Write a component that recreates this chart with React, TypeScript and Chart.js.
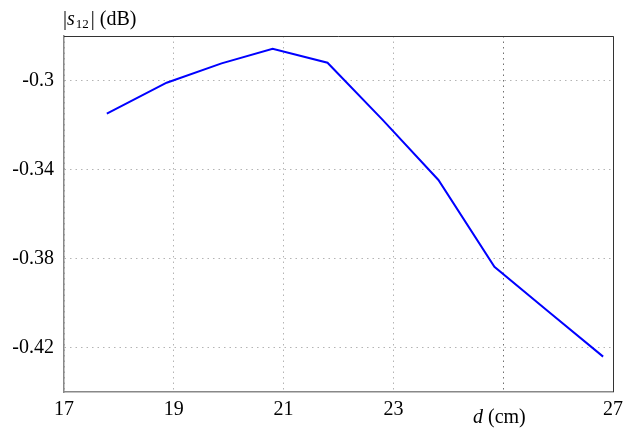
import React, { useEffect, useRef } from "react";
import { Chart, registerables } from "chart.js";

Chart.register(...registerables);

const FONT = "'Liberation Serif', 'Times New Roman', Times, serif";

// d (cm)
const dValues = [17.78, 18.87, 19.87, 20.8, 21.8, 22.8, 23.82, 24.84, 25.8, 26.82];
// |s12| (dB)
const s12Values = [-0.3149, -0.301, -0.2923, -0.2857, -0.292, -0.3176, -0.3447, -0.3837, -0.4034, -0.4241];

const xTickValues = [17, 19, 21, 23, 25, 27];
const xTickLabels = ["17", "19", "21", "23", "", "27"];
const yTickValues = [-0.42, -0.38, -0.34, -0.3];
const yTickLabels = ["-0.42", "-0.38", "-0.34", "-0.3"];

const frameAndTitles = {
  id: "frameAndTitles",
  afterDraw(chart: any) {
    const { ctx, chartArea } = chart;
    const { left, top, right, bottom } = chartArea;
    ctx.save();
    // top and right frame
    ctx.strokeStyle = "#333333";
    ctx.lineWidth = 1;
    ctx.setLineDash([]);
    ctx.beginPath();
    ctx.moveTo(left, Math.round(top) + 0.5);
    ctx.lineTo(Math.round(right) + 0.5, Math.round(top) + 0.5);
    ctx.lineTo(Math.round(right) + 0.5, bottom);
    ctx.stroke();

    ctx.fillStyle = "#000000";
    ctx.textBaseline = "alphabetic";
    ctx.textAlign = "left";

    // y-axis title: |s12| (dB)
    const normal = `20px ${FONT}`;
    const italic = `italic 20px ${FONT}`;
    const sub = `13px ${FONT}`;
    let x = left - 1;
    const yb = 25;
    ctx.font = normal;
    ctx.fillText("|", x, yb);
    x += ctx.measureText("|").width;
    ctx.font = italic;
    ctx.fillText("s", x, yb);
    x += ctx.measureText("s").width + 1;
    ctx.font = sub;
    ctx.fillText("12", x, yb + 3);
    x += ctx.measureText("12").width + 2;
    ctx.font = normal;
    ctx.fillText("| (dB)", x, yb);

    // x-axis title: d (cm)
    let x2 = 473;
    const yb2 = 423;
    ctx.font = italic;
    ctx.fillText("d", x2, yb2);
    x2 += ctx.measureText("d").width;
    ctx.font = normal;
    ctx.fillText(" (cm)", x2, yb2);
    ctx.restore();
  },
};

export default function App() {
  const canvasRef = useRef<HTMLCanvasElement | null>(null);

  useEffect(() => {
    if (!canvasRef.current) return;
    const chart = new Chart(canvasRef.current, {
      type: "line",
      data: {
        datasets: [
          {
            data: dValues.map((d, i) => ({ x: d, y: s12Values[i] })),
            borderColor: "#0000ff",
            borderWidth: 2,
            pointRadius: 0,
            tension: 0,
            fill: false,
          },
        ],
      },
      options: {
        animation: false,
        responsive: false,
        events: [],
        layout: { padding: { left: 0, right: 18, top: 36, bottom: 0 } },
        plugins: {
          legend: { display: false },
          tooltip: { enabled: false },
          title: { display: false },
        },
        scales: {
          x: {
            type: "linear",
            min: 17,
            max: 27,
            afterBuildTicks: (scale: any) => {
              scale.ticks = xTickValues.map((v) => ({ value: v }));
            },
            afterFit: (scale: any) => {
              scale.height = 36;
            },
            ticks: {
              autoSkip: false,
              maxRotation: 0,
              padding: 6,
              color: "#000000",
              font: { family: FONT, size: 20 },
              callback: (value: any) => xTickLabels[xTickValues.indexOf(Number(value))] ?? "",
            },
            grid: {
              drawTicks: false,
              lineWidth: 1,
              color: (ctx: any) =>
                ctx.tick && ctx.tick.value === 25 ? "#707070" : "#b4b4b4",
            },
            border: { display: true, color: "#888888", width: 1.5, dash: [1.5, 4] },
          },
          y: {
            type: "linear",
            min: -0.44,
            max: -0.28,
            afterBuildTicks: (scale: any) => {
              scale.ticks = yTickValues.map((v) => ({ value: v }));
            },
            afterFit: (scale: any) => {
              scale.width = 64;
            },
            ticks: {
              autoSkip: false,
              padding: 10,
              color: "#000000",
              font: { family: FONT, size: 20 },
              callback: (value: any, index: number) => yTickLabels[index] ?? "",
            },
            grid: {
              drawTicks: false,
              lineWidth: 1,
              color: "#b4b4b4",
            },
            border: { display: true, color: "#888888", width: 1.5, dash: [1.5, 4] },
          },
        },
      },
      plugins: [frameAndTitles],
    } as any);
    return () => chart.destroy();
  }, []);

  return (
    <div style={{ position: "absolute", left: 0, top: 0, width: 631, height: 428, background: "#ffffff" }}>
      <canvas ref={canvasRef} width={631} height={428} style={{ display: "block" }} />
    </div>
  );
}
